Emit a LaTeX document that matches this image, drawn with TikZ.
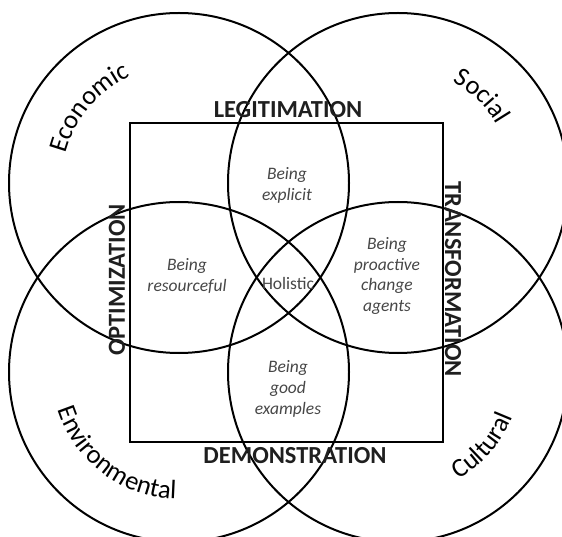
\documentclass[tikz,border=0pt]{standalone}
\usepackage{fontspec}
\setmainfont{Carlito}
\usetikzlibrary{calc,decorations.text}
\def\circfont{\fontsize{26.5}{26.5}\selectfont}
\def\arclabel[#1](#2)(#3:#4:#5)#6{\path[decorate,decoration={text along path,text align=center,text={|\circfont|#6}},#1] ($(#2)+({#5*cos(#3)},{#5*sin(#3)})$) arc (#3:#4:#5);}

\begin{document}
\begin{tikzpicture}[x=1pt,y=1pt,
	ring/.style={line width=2pt},
	frame/.style={line width=2.4pt},
	phase/.style={font=\fontsize{24.5}{24.5}\selectfont\bfseries, text=black!88, inner sep=0pt},
	role/.style={font=\fontsize{17.5}{20.8}\selectfont\itshape, text=black!72, align=center, inner sep=0pt}]
			%%%%% START %%%%%
			\useasboundingbox (0,0) rectangle (562,536);
			\clip (0,0) rectangle (562,536);
			
			\coordinate (eco) at (179,353);
			\coordinate (soc) at (398,353);
			\coordinate (env) at (179,164);
			\coordinate (cul) at (398,164);
			
			\draw[ring] (eco) circle (170);
			\draw[ring] (soc) circle (170);
			\draw[ring] (env) circle (170);
			\draw[ring] (cul) circle (170);
			
			\draw[frame] (130,413) rectangle (443,94);
			
			\arclabel[](eco)(188:92:117){Economic}
			\arclabel[](soc)(70:22:115){Social}
			\arclabel[](env)(190:276:127){Environmental}
			\arclabel[](cul)(-70:-12:123){Cultural}
			
			\node[phase] (legit) at (288,426) {LEGITIMATION};
			\node[phase] (demo) at (295,80) {DEMONSTRATION};
			\node[phase, rotate=90] (optim) at (117,256) {OPTIMIZATION};
			\node[phase, rotate=-90] (trans) at (453,257) {TRANSFORMATION};
			
			\node[role] (explicit) at (287,351) {Being\\explicit};
			\node[role] (resource) at (187,260) {Being\\resourceful};
			\node[role, font=\fontsize{17.5}{20}\selectfont] (holist) at (288,253) {Holistic};
			\node[role] (proact) at (387,260) {Being\\proactive\\change\\agents};
			\node[role] (example) at (288,147) {Being\\good\\examples};
			
			%%%%% END %%%%%
\end{tikzpicture}
\end{document}
